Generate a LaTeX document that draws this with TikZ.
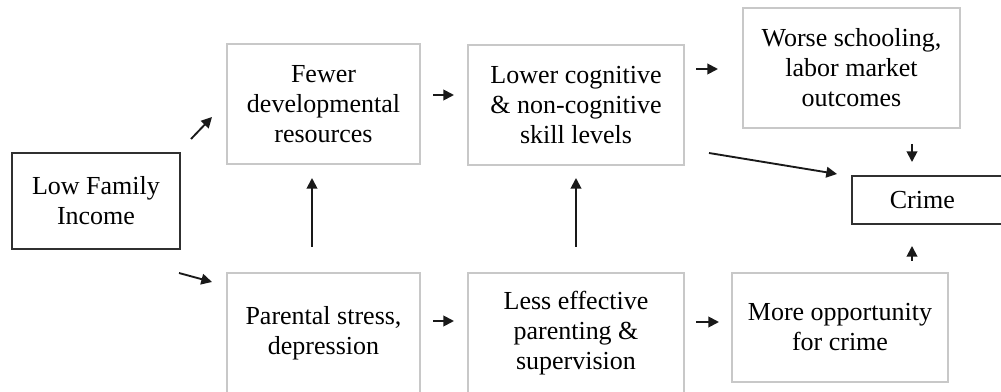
\documentclass[tikz,border=0pt]{standalone}
\usepackage{fontspec}
\setmainfont{Liberation Serif}
\usetikzlibrary{arrows.meta,calc}
\definecolor{lightframe}{HTML}{C8C8C8}
\definecolor{darkframe}{HTML}{303030}
\begin{document}
\begin{tikzpicture}[x=0.75pt,y=-0.75pt,
  txt/.style={align=center, inner sep=0pt, font=\fontsize{19.5}{22.5}\selectfont},
  lightbox/.style={txt, draw=lightframe, line width=1.5pt},
  darkbox/.style={txt, draw=darkframe, line width=1.5pt},
  arr/.style={-{Triangle[length=8pt,width=8pt]}, line width=1.4pt, black!90}]
\fill[white] (0,0) rectangle (1001,392);
\useasboundingbox (0,0) rectangle (1001,392);
\clip (0,0) rectangle (1001,392);

\node[darkbox, minimum width=168*0.75pt, minimum height=96*0.75pt] (low) at (96,201) {Low Family\\Income};
\node[lightbox, minimum width=193*0.75pt, minimum height=120*0.75pt] (fewer) at (323.5,104) {Fewer\\developmental\\resources};
\node[lightbox, minimum width=216*0.75pt, minimum height=120*0.75pt] (lower) at (576,105) {Lower cognitive\\\& non-cognitive\\skill levels};
\node[lightbox, minimum width=217*0.75pt, minimum height=120*0.75pt] (worse) at (851.5,68) {Worse schooling,\\labor market\\outcomes};
\node[darkbox, minimum width=154*0.75pt, minimum height=48*0.75pt] (crime) at (929,200) {Crime\hspace*{10pt}};
\node[lightbox, minimum width=193*0.75pt, minimum height=120*0.75pt] (parental) at (323.5,333) {Parental stress,\\depression};
\node[lightbox, minimum width=216*0.75pt, minimum height=120*0.75pt] (less) at (576,333) {Less effective\\parenting \&\\supervision};
\node[lightbox, minimum width=216*0.75pt, minimum height=109*0.75pt] (more) at (840,327.5) {More opportunity\\for crime};

\draw[arr] ($(low.north east)+(10,-13)$) -- ($(fewer.west)+(-14,13)$);
\draw[arr] ($(low.south east)+(-2,23)$) -- ($(parental.north west)+(-14,10)$);
\draw[arr] ($(fewer.east)+(12,-9)$) -- ($(lower.west)+(-13,-10)$);
\draw[arr] ($(lower.east)+(11,-36)$) -- ($(worse.west)+(-24,1)$);
\draw[arr] ($(lower.south east)+(24,-13)$) -- ($(crime.north west)+(-14,-1)$);
\draw[arr] ($(worse.south)+(60.5,15)$) -- ($(crime.north)+(-17,-13)$);
\draw[arr] ($(parental.north)+(-11.5,-25)$) -- ($(fewer.south)+(-11.5,13)$);
\draw[arr] ($(parental.east)+(12,-12)$) -- ($(less.west)+(-13,-12)$);
\draw[arr] ($(less.north)+(0,-25)$) -- ($(lower.south)+(0,12)$);
\draw[arr] ($(less.east)+(11,-11)$) -- ($(more.west)+(-12,-5.5)$);
\draw[arr] ($(more.north)+(72,-11)$) -- ($(crime.south)+(-17,21)$);
\end{tikzpicture}
\end{document}
